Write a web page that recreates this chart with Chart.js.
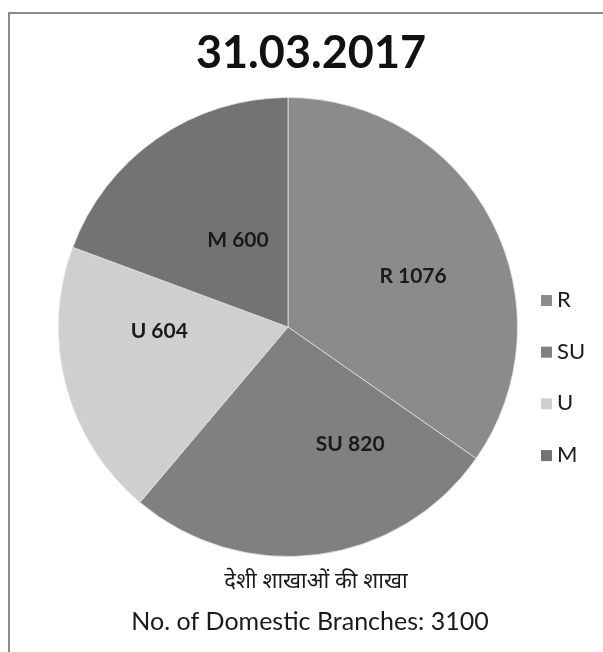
<!DOCTYPE html>
<html>
<head>
<meta charset="utf-8">
<script src="https://cdn.jsdelivr.net/npm/chart.js@4/dist/chart.umd.min.js"></script>
<style>
  html, body { margin: 0; padding: 0; background: #fff; }
  #wrap { position: relative; width: 603px; height: 652px; overflow: hidden; }
  #frame { position: absolute; left: 8px; top: 12px; width: 620px; height: 660px;
           border-top: 2px solid #8c8c8c; border-left: 2px solid #8c8c8c; box-sizing: border-box; }
  canvas { position: absolute; left: 0; top: 0; }
</style>
</head>
<body>
<div id="wrap">
  <div id="frame"></div>
  <canvas id="chartPie" width="603" height="652"></canvas>
</div>
<script>
// data
const categories = ['R', 'SU', 'U', 'M'];
const branches = [1076, 820, 604, 600];
const sliceColors = ['#8b8b8b', '#808080', '#cfcfcf', '#737373'];
const titleText = '31.03.2017';
const captionHindi = 'देशी शाखाओं की शाखा';
const captionEnglish = 'No. of Domestic Branches: 3100';

const FONT = 'Lato, "Open Sans", "Noto Sans", sans-serif';

// slice labels like "R 1076", nudged a little the way Excel placed them
const sliceLabels = {
    id: 'sliceLabels',
    afterDatasetsDraw(chart, args, opts) {
        const ctx = chart.ctx;
        const meta = chart.getDatasetMeta(0);
        ctx.save();
        ctx.font = 'bold 21px ' + FONT;
        ctx.fillStyle = '#1a1a1a';
        ctx.textAlign = 'center';
        ctx.textBaseline = 'middle';
        meta.data.forEach((arc, i) => {
            const mid = (arc.startAngle + arc.endAngle) / 2;
            const r = arc.outerRadius * opts.frac;
            const nudge = opts.nudge[i] || [0, 0];
            const x = arc.x + Math.cos(mid) * r + nudge[0];
            const y = arc.y + Math.sin(mid) * r + nudge[1];
            ctx.fillText(chart.data.labels[i] + ' ' + chart.data.datasets[0].data[i], x, y);
        });
        ctx.restore();
    }
};

// title, legend on the right, captions under the pie
const extras = {
    id: 'extras',
    afterDraw(chart) {
        const ctx = chart.ctx;
        const ds = chart.data.datasets[0];
        ctx.save();
        ctx.fillStyle = '#111';
        ctx.textAlign = 'center';
        ctx.textBaseline = 'middle';
        ctx.font = 'bold 45px ' + FONT;
        ctx.fillText(titleText, 311, 53);

        ctx.font = '22px ' + FONT;
        ctx.textAlign = 'left';
        chart.data.labels.forEach((lab, i) => {
            const y = 300 + i * 51.7;
            ctx.fillStyle = ds.backgroundColor[i];
            ctx.fillRect(541, y - 5, 11, 11);
            ctx.fillStyle = '#1a1a1a';
            ctx.fillText(lab, 557, y);
        });
        ctx.textAlign = 'center';
        ctx.font = '22px "Noto Sans Devanagari", "Noto Sans", sans-serif';
        ctx.fillText(captionHindi, 316, 584);
        ctx.font = '25px ' + FONT;
        ctx.fillText(captionEnglish, 310, 622);
        ctx.restore();
    }
};

new Chart(document.getElementById('chartPie'), {
    type: 'pie',
    data: {
        labels: categories,
        datasets: [{
            data: branches,
            backgroundColor: sliceColors,
            borderColor: 'rgba(225,225,225,0.8)',
            borderWidth: 1
        }]
    },
    options: {
        responsive: false,
        animation: false,
        layout: { padding: { top: 97, bottom: 95, left: 58, right: 85 } },
        plugins: {
            legend: { display: false },
            tooltip: { enabled: false },
            title: { display: false },
            sliceLabels: {
                frac: 0.58,
                nudge: [[7, 11], [45, -15], [0, -30], [26, 22]]
            }
        }
    },
    plugins: [sliceLabels, extras]
});
</script>
</body>
</html>
